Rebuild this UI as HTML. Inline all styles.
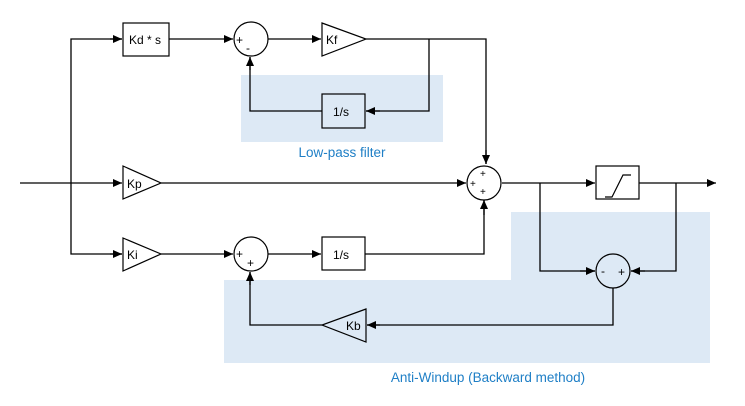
<!DOCTYPE html>
<html><head><meta charset="utf-8"><style>
html,body{margin:0;padding:0;background:#fff;width:745px;height:406px;overflow:hidden}
svg{display:block}
text{font-family:"Liberation Sans","DejaVu Sans",sans-serif}
</style></head><body>
<svg width="745" height="406" viewBox="0 0 745 406" xmlns="http://www.w3.org/2000/svg">
<defs>
<marker id="a" markerWidth="10" markerHeight="8" refX="9" refY="4" orient="auto" markerUnits="userSpaceOnUse">
<path d="M0,0 L9,4 L0,8 z" fill="#000"/></marker>
</defs>
<rect x="241" y="75" width="202" height="67" fill="#dde9f5"/>
<path d="M511,212 H710 V363 H224 V280 H511 Z" fill="#dde9f5"/>
<text x="342" y="157" font-size="13.5" fill="#1f7fc6" text-anchor="middle">Low-pass filter</text>
<text x="488" y="382" font-size="13.5" fill="#1f7fc6" text-anchor="middle">Anti-Windup (Backward method)</text>

<g stroke="#000" stroke-width="1.3" fill="none">
<line x1="20" y1="183" x2="122" y2="183" marker-end="url(#a)"/>
<polyline points="122,39 71,39 71,254 122,254" />
<line x1="110" y1="39" x2="122" y2="39" marker-end="url(#a)"/>
<line x1="110" y1="254" x2="122" y2="254" marker-end="url(#a)"/>
<line x1="169" y1="39" x2="233" y2="39" marker-end="url(#a)"/>
<line x1="268" y1="39" x2="321" y2="39" marker-end="url(#a)"/>
<polyline points="366,39 486,39 486,164"/>
<line x1="486" y1="150" x2="486" y2="164" marker-end="url(#a)"/>
<polyline points="429,39 429,111 366,111"/>
<line x1="380" y1="111" x2="366" y2="111" marker-end="url(#a)"/>
<polyline points="322,111 250,111 250,57"/>
<line x1="250" y1="70" x2="250" y2="57" marker-end="url(#a)"/>
<line x1="161" y1="183" x2="466" y2="183" marker-end="url(#a)"/>
<line x1="502" y1="183" x2="595" y2="183" marker-end="url(#a)"/>
<line x1="639" y1="183" x2="716" y2="183" marker-end="url(#a)"/>
<polyline points="540,183 540,271 595,271"/>
<line x1="580" y1="271" x2="595" y2="271" marker-end="url(#a)"/>
<polyline points="676,183 676,271 631,271"/>
<line x1="645" y1="271" x2="631" y2="271" marker-end="url(#a)"/>
<line x1="161" y1="254" x2="233" y2="254" marker-end="url(#a)"/>
<line x1="268" y1="254" x2="321" y2="254" marker-end="url(#a)"/>
<polyline points="365,254 484,254 484,200"/>
<line x1="484" y1="215" x2="484" y2="200" marker-end="url(#a)"/>
<polyline points="613,288 613,325 367,325"/>
<line x1="380" y1="325" x2="367" y2="325" marker-end="url(#a)"/>
<polyline points="322,325 250,325 250,272"/>
<line x1="250" y1="285" x2="250" y2="272" marker-end="url(#a)"/>
</g>

<g stroke="#000" stroke-width="1.2" fill="#fff">
<rect x="123" y="23" width="46" height="33"/>
<circle cx="251" cy="39" r="17"/>
<polygon points="322,23 366,39 322,56"/>
<rect x="322" y="94" width="43" height="34" fill="#dde9f5"/>
<polygon points="123,166 161,183 123,199"/>
<polygon points="123,238 161,254 123,271"/>
<circle cx="251" cy="254" r="17"/>
<rect x="322" y="237" width="43" height="33"/>
<circle cx="484" cy="183" r="17"/>
<rect x="596" y="166" width="43" height="33"/>
<circle cx="613" cy="271" r="17" fill="#dde9f5"/>
<polygon points="366,309 322,325 366,342" fill="#dde9f5"/>
</g>
<polyline points="605,197 612,197 623,175 631,175" stroke="#000" stroke-width="1.2" fill="none"/>

<g font-size="12" fill="#000">
<text x="129" y="44">Kd * s</text>
<text x="326" y="44">Kf</text>
<text x="333" y="116">1/s</text>
<text x="127" y="188">Kp</text>
<text x="127" y="259">Ki</text>
<text x="333" y="259">1/s</text>
<text x="346" y="330">Kb</text>
<text x="236" y="44">+</text>
<text x="246" y="52">-</text>
<text x="236" y="258">+</text>
<text x="247" y="267">+</text>
<text x="480" y="177" font-size="10">+</text>
<text x="470" y="187" font-size="10">+</text>
<text x="480" y="195" font-size="10">+</text>
<text x="601" y="275">-</text>
<text x="618" y="276">+</text>
</g>
</svg>
</body></html>
